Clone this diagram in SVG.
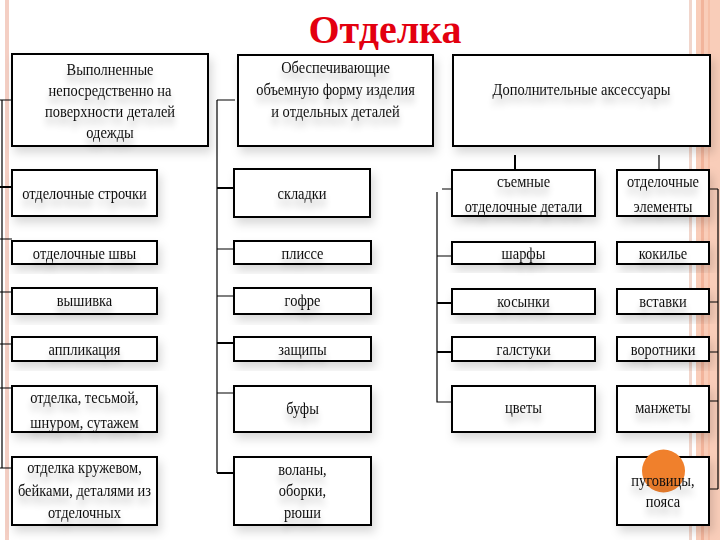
<svg xmlns="http://www.w3.org/2000/svg" width="720" height="540" viewBox="0 0 720 540">
<defs>
<style>
.box{fill:#ffffff;stroke:#000;stroke-width:2;filter:url(#bs)}
.t{font-family:"Liberation Serif","Times New Roman",serif;font-size:17px;fill:#111;text-anchor:middle;filter:url(#ts);transform-box:fill-box;transform-origin:center;transform:scaleX(0.85)}
.c{stroke:#000;stroke-width:1.2;fill:none}
.ct{stroke:#000;stroke-width:2;fill:none}
</style>
<filter id="ts" x="-20%" y="-60%" width="140%" height="300%">
<feGaussianBlur in="SourceAlpha" stdDeviation="4"/>
<feOffset dy="7"/>
<feComponentTransfer><feFuncA type="linear" slope="0.3"/></feComponentTransfer>
<feMerge><feMergeNode/><feMergeNode in="SourceGraphic"/></feMerge>
</filter>
<filter id="bs" x="-10%" y="-20%" width="125%" height="160%">
<feDropShadow dx="3" dy="6" stdDeviation="5" flood-color="#000" flood-opacity="0.15"/>
</filter>
</defs>
<rect width="720" height="540" fill="#ffffff"/>
<g id="decor">
<rect x="5" y="0" width="4" height="540" fill="#f4cfc4"/>
<rect x="689" y="0" width="3" height="540" fill="#f1d6cc"/>
<rect x="696" y="0" width="24" height="540" fill="#f9cdb9"/>
<rect x="701" y="0" width="3" height="540" fill="#f2b49b"/>
<rect x="708" y="0" width="2" height="540" fill="#f6c0a8"/>
</g>
<text x="385" y="43" font-family="Liberation Serif,Times New Roman,serif" font-size="40" font-weight="bold" fill="#e3000f" text-anchor="middle">Отделка</text>
<g id="connectors">
<path class="c" d="M2,100V468"/>
<path class="c" d="M0,100H12M0,239H12M0,292H12M0,344H12M0,388H12M0,468H12"/>
<path class="ct" d="M0,187H12"/>
<path class="c" d="M217,100V473"/>
<path class="c" d="M217,100H235M217,249H234M217,296H234M217,393H234"/>
<path class="ct" d="M217,188H234M217,343H234M217,473H234"/>
<path class="ct" d="M515,155V170"/>
<path class="c" d="M659,155V170"/>
<path class="c" d="M437,192V402H451"/>
<path class="c" d="M442,189H452M437,256H452"/>
<path class="ct" d="M437,303H452M437,352H452"/>
<path class="c" d="M718,189V489"/>
<path class="c" d="M710,189H718M710,302H718M710,352H718M710,401H718M710,489H718"/>
</g>
<g id="n1"><rect class="box" x="12" y="54" width="196" height="92"/>
<text class="t"><tspan x="110" y="75">Выполненные</tspan><tspan x="110" y="96">непосредственно на</tspan><tspan x="110" y="117">поверхности деталей</tspan><tspan x="110" y="138">одежды</tspan></text></g>
<g id="n2"><rect class="box" x="238" y="55" width="195" height="91"/>
<text class="t"><tspan x="335.5" y="73">Обеспечивающие</tspan><tspan x="335.5" y="95">объемную форму изделия</tspan><tspan x="335.5" y="117">и отдельных деталей</tspan></text></g>
<g id="n3"><rect class="box" x="453" y="55" width="257" height="91"/>
<text class="t" x="581.5" y="95">Дополнительные аксессуары</text></g>
<g id="n1a"><rect class="box" x="12" y="170" width="145" height="46"/><text class="t" x="84.5" y="199">отделочные строчки</text></g>
<g id="n1b"><rect class="box" x="12" y="241" width="145" height="23"/><text class="t" x="84.5" y="259">отделочные швы</text></g>
<g id="n1c"><rect class="box" x="12" y="288" width="145" height="26"/><text class="t" x="84.5" y="306">вышивка</text></g>
<g id="n1d"><rect class="box" x="12" y="337" width="145" height="24"/><text class="t" x="84.5" y="355">аппликация</text></g>
<g id="n1e"><rect class="box" x="12" y="386" width="145" height="46"/><text class="t"><tspan x="84.5" y="403">отделка, тесьмой,</tspan><tspan x="84.5" y="428">шнуром, сутажем</tspan></text></g>
<g id="n1f"><rect class="box" x="12" y="457" width="145" height="68"/><text class="t"><tspan x="84.5" y="473">отделка кружевом,</tspan><tspan x="84.5" y="496">бейками, деталями из</tspan><tspan x="84.5" y="518">отделочных</tspan></text></g>
<g id="n2a"><rect class="box" x="234" y="169" width="136" height="48"/><text class="t" x="302" y="199">складки</text></g>
<g id="n2b"><rect class="box" x="234" y="241" width="137" height="23"/><text class="t" x="302.5" y="259">плиссе</text></g>
<g id="n2c"><rect class="box" x="234" y="288" width="137" height="26"/><text class="t" x="302.5" y="306">гофре</text></g>
<g id="n2d"><rect class="box" x="234" y="337" width="137" height="24"/><text class="t" x="302.5" y="355">защипы</text></g>
<g id="n2e"><rect class="box" x="234" y="386" width="137" height="46"/><text class="t" x="302.5" y="414">буфы</text></g>
<g id="n2f"><rect class="box" x="234" y="457" width="137" height="68"/><text class="t"><tspan x="302.5" y="475">воланы,</tspan><tspan x="302.5" y="496">оборки,</tspan><tspan x="302.5" y="518">рюши</tspan></text></g>
<g id="n3a"><rect class="box" x="452" y="170" width="143" height="46"/><text class="t"><tspan x="523.5" y="187">съемные</tspan><tspan x="523.5" y="212">отделочные детали</tspan></text></g>
<g id="n3b"><rect class="box" x="452" y="242" width="143" height="22"/><text class="t" x="523.5" y="259">шарфы</text></g>
<g id="n3c"><rect class="box" x="452" y="289" width="143" height="25"/><text class="t" x="523.5" y="307">косынки</text></g>
<g id="n3d"><rect class="box" x="452" y="337" width="143" height="24"/><text class="t" x="523.5" y="355">галстуки</text></g>
<g id="n3e"><rect class="box" x="452" y="386" width="143" height="46"/><text class="t" x="523.5" y="413">цветы</text></g>
<g id="n4a"><rect class="box" x="617" y="170" width="92" height="46"/><text class="t"><tspan x="663" y="187">отделочные</tspan><tspan x="663" y="212">элементы</tspan></text></g>
<g id="n4b"><rect class="box" x="617" y="242" width="92" height="22"/><text class="t" x="663" y="259">кокилье</text></g>
<g id="n4c"><rect class="box" x="617" y="289" width="92" height="25"/><text class="t" x="663" y="307">вставки</text></g>
<g id="n4d"><rect class="box" x="617" y="337" width="92" height="24"/><text class="t" x="663" y="355">воротники</text></g>
<g id="n4e"><rect class="box" x="617" y="386" width="92" height="46"/><text class="t" x="663" y="413">манжеты</text></g>
<g id="n4f"><rect class="box" x="617" y="457" width="92" height="68"/>
<circle cx="663.5" cy="471" r="21.5" fill="#f0802c"/>
<text class="t"><tspan x="663" y="486">пуговицы,</tspan><tspan x="663" y="507">пояса</tspan></text></g>
</svg>
